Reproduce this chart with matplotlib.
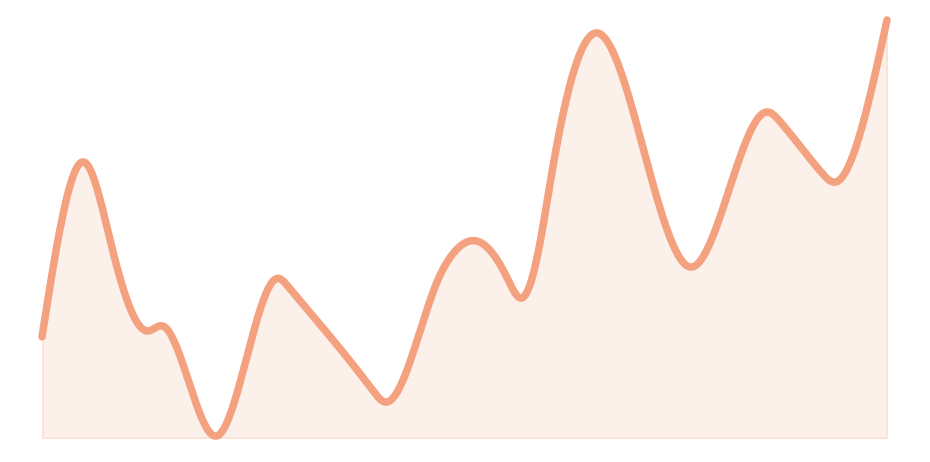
import numpy as np
from matplotlib import pyplot as plt

# series values (x on a 0-100 scale, y on a 0-100 scale)
x_vals = [0, 5.0, 8.3, 12.5, 14.3, 20.7, 27.9, 29.1, 39.1, 40.6, 43.9, 46.7,
          48.6, 51.5, 55.0, 56.8, 58.6, 60.5, 65.7, 70.4, 76.9, 85.9, 87.3,
          92.3, 93.8, 100]
y_vals = [24.2, 66.0, 45.4, 25.6, 26.8, 0.5, 38.2, 36.3, 11.5, 8.6, 20.3, 37.1,
          44.0, 47.1, 38.5, 33.5, 43.3, 65.3, 96.9, 74.9, 40.9, 78.0, 75.8,
          63.4, 61.2, 100]

line_color = "#f4a17f"
fill_color = "#fcf0ea"
edge_color = "#fde2d7"


def natural_spline(x, y, n=40):
    # natural cubic spline through the points
    x = np.asarray(x, float)
    y = np.asarray(y, float)
    k = len(x)
    h = np.diff(x)
    A = np.zeros((k, k))
    b = np.zeros(k)
    A[0, 0] = A[-1, -1] = 1
    for i in range(1, k - 1):
        A[i, i - 1] = h[i - 1]
        A[i, i] = 2 * (h[i - 1] + h[i])
        A[i, i + 1] = h[i]
        b[i] = 6 * ((y[i + 1] - y[i]) / h[i] - (y[i] - y[i - 1]) / h[i - 1])
    m = np.linalg.solve(A, b)
    xs, ys = [], []
    for i in range(k - 1):
        u = np.linspace(x[i], x[i + 1], n, endpoint=False)
        a = x[i + 1] - u
        c = u - x[i]
        v = (m[i] * a**3 + m[i + 1] * c**3) / (6 * h[i]) \
            + (y[i] / h[i] - m[i] * h[i] / 6) * a \
            + (y[i + 1] / h[i] - m[i + 1] * h[i] / 6) * c
        xs.append(u)
        ys.append(v)
    xs.append([x[-1]])
    ys.append([y[-1]])
    return np.concatenate(xs), np.concatenate(ys)


cx, cy = natural_spline(x_vals, y_vals)

fig = plt.figure(figsize=(9.3, 4.62), dpi=100)
ax = fig.add_axes([42 / 930, 24 / 462, 845 / 930, 418 / 462])
ax.fill_between(cx, 0, cy, facecolor=fill_color, edgecolor=edge_color, linewidth=2)
ax.plot(cx, cy, color=line_color, linewidth=5.4, solid_capstyle="round",
        solid_joinstyle="round", clip_on=False)
ax.set_xlim(0, 100)
ax.set_ylim(0, 100)
ax.axis("off")

fig.savefig("out.png", dpi=100)
